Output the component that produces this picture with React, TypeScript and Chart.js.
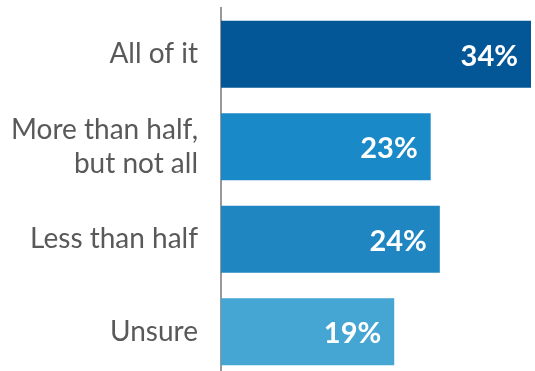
import React, { useEffect, useRef } from "react";
import { Chart, registerables } from "chart.js";

Chart.register(...registerables);

const categories: (string | string[])[] = [
  "All of it",
  ["More than half,", "but not all"],
  "Less than half",
  "Unsure",
];
const values: number[] = [34, 23, 24, 19];
const valueLabels: string[] = ["34%", "23%", "24%", "19%"];
const barColors: string[] = ["#035796", "#1a89c8", "#1f86c2", "#45a6d4"];

const FONT = "Lato, 'Source Sans Pro', 'Open Sans', sans-serif";

const valueLabelPlugin = {
  id: "valueLabels",
  afterDatasetsDraw(chart: any) {
    const ctx = chart.ctx;
    const meta = chart.getDatasetMeta(0);
    ctx.save();
    ctx.fillStyle = "#ffffff";
    ctx.font = `bold 29px ${FONT}`;
    ctx.textAlign = "right";
    ctx.textBaseline = "middle";
    meta.data.forEach((bar: any, i: number) => {
      ctx.fillText(valueLabels[i], bar.x - 13, bar.y + 2);
    });
    ctx.restore();
  },
};

export default function App() {
  const ref = useRef<HTMLCanvasElement | null>(null);

  useEffect(() => {
    if (!ref.current) return;
    const chart = new Chart(ref.current, {
      type: "bar",
      data: {
        labels: categories,
        datasets: [
          {
            data: values,
            backgroundColor: barColors,
            borderWidth: 0,
            categoryPercentage: 1,
            barPercentage: 0.725,
          },
        ],
      },
      options: {
        indexAxis: "y",
        animation: false,
        responsive: true,
        maintainAspectRatio: false,
        devicePixelRatio: 1,
        layout: { padding: { top: 8, right: 4, bottom: 0, left: 0 } },
        plugins: {
          legend: { display: false },
          tooltip: { enabled: false },
        },
        scales: {
          x: {
            display: false,
            min: 0,
            max: 34,
          },
          y: {
            afterFit: (scale: any) => {
              scale.width = 221;
              scale.paddingTop = 0;
              scale.paddingBottom = 0;
            },
            grid: { display: false, drawTicks: false },
            border: { display: true, color: "#999999", width: 2 },
            ticks: {
              color: "#595959",
              padding: 23,
              font: { family: FONT, size: 28, lineHeight: 1.2 },
            },
          },
        },
      },
      plugins: [valueLabelPlugin],
    });
    return () => chart.destroy();
  }, []);

  return (
    <div
      style={{
        position: "fixed",
        left: 0,
        top: 0,
        width: 535,
        height: 371,
        overflow: "hidden",
        background: "#ffffff",
      }}
    >
      <div style={{ position: "relative", width: 535, height: 378 }}>
        <canvas ref={ref} />
      </div>
    </div>
  );
}
